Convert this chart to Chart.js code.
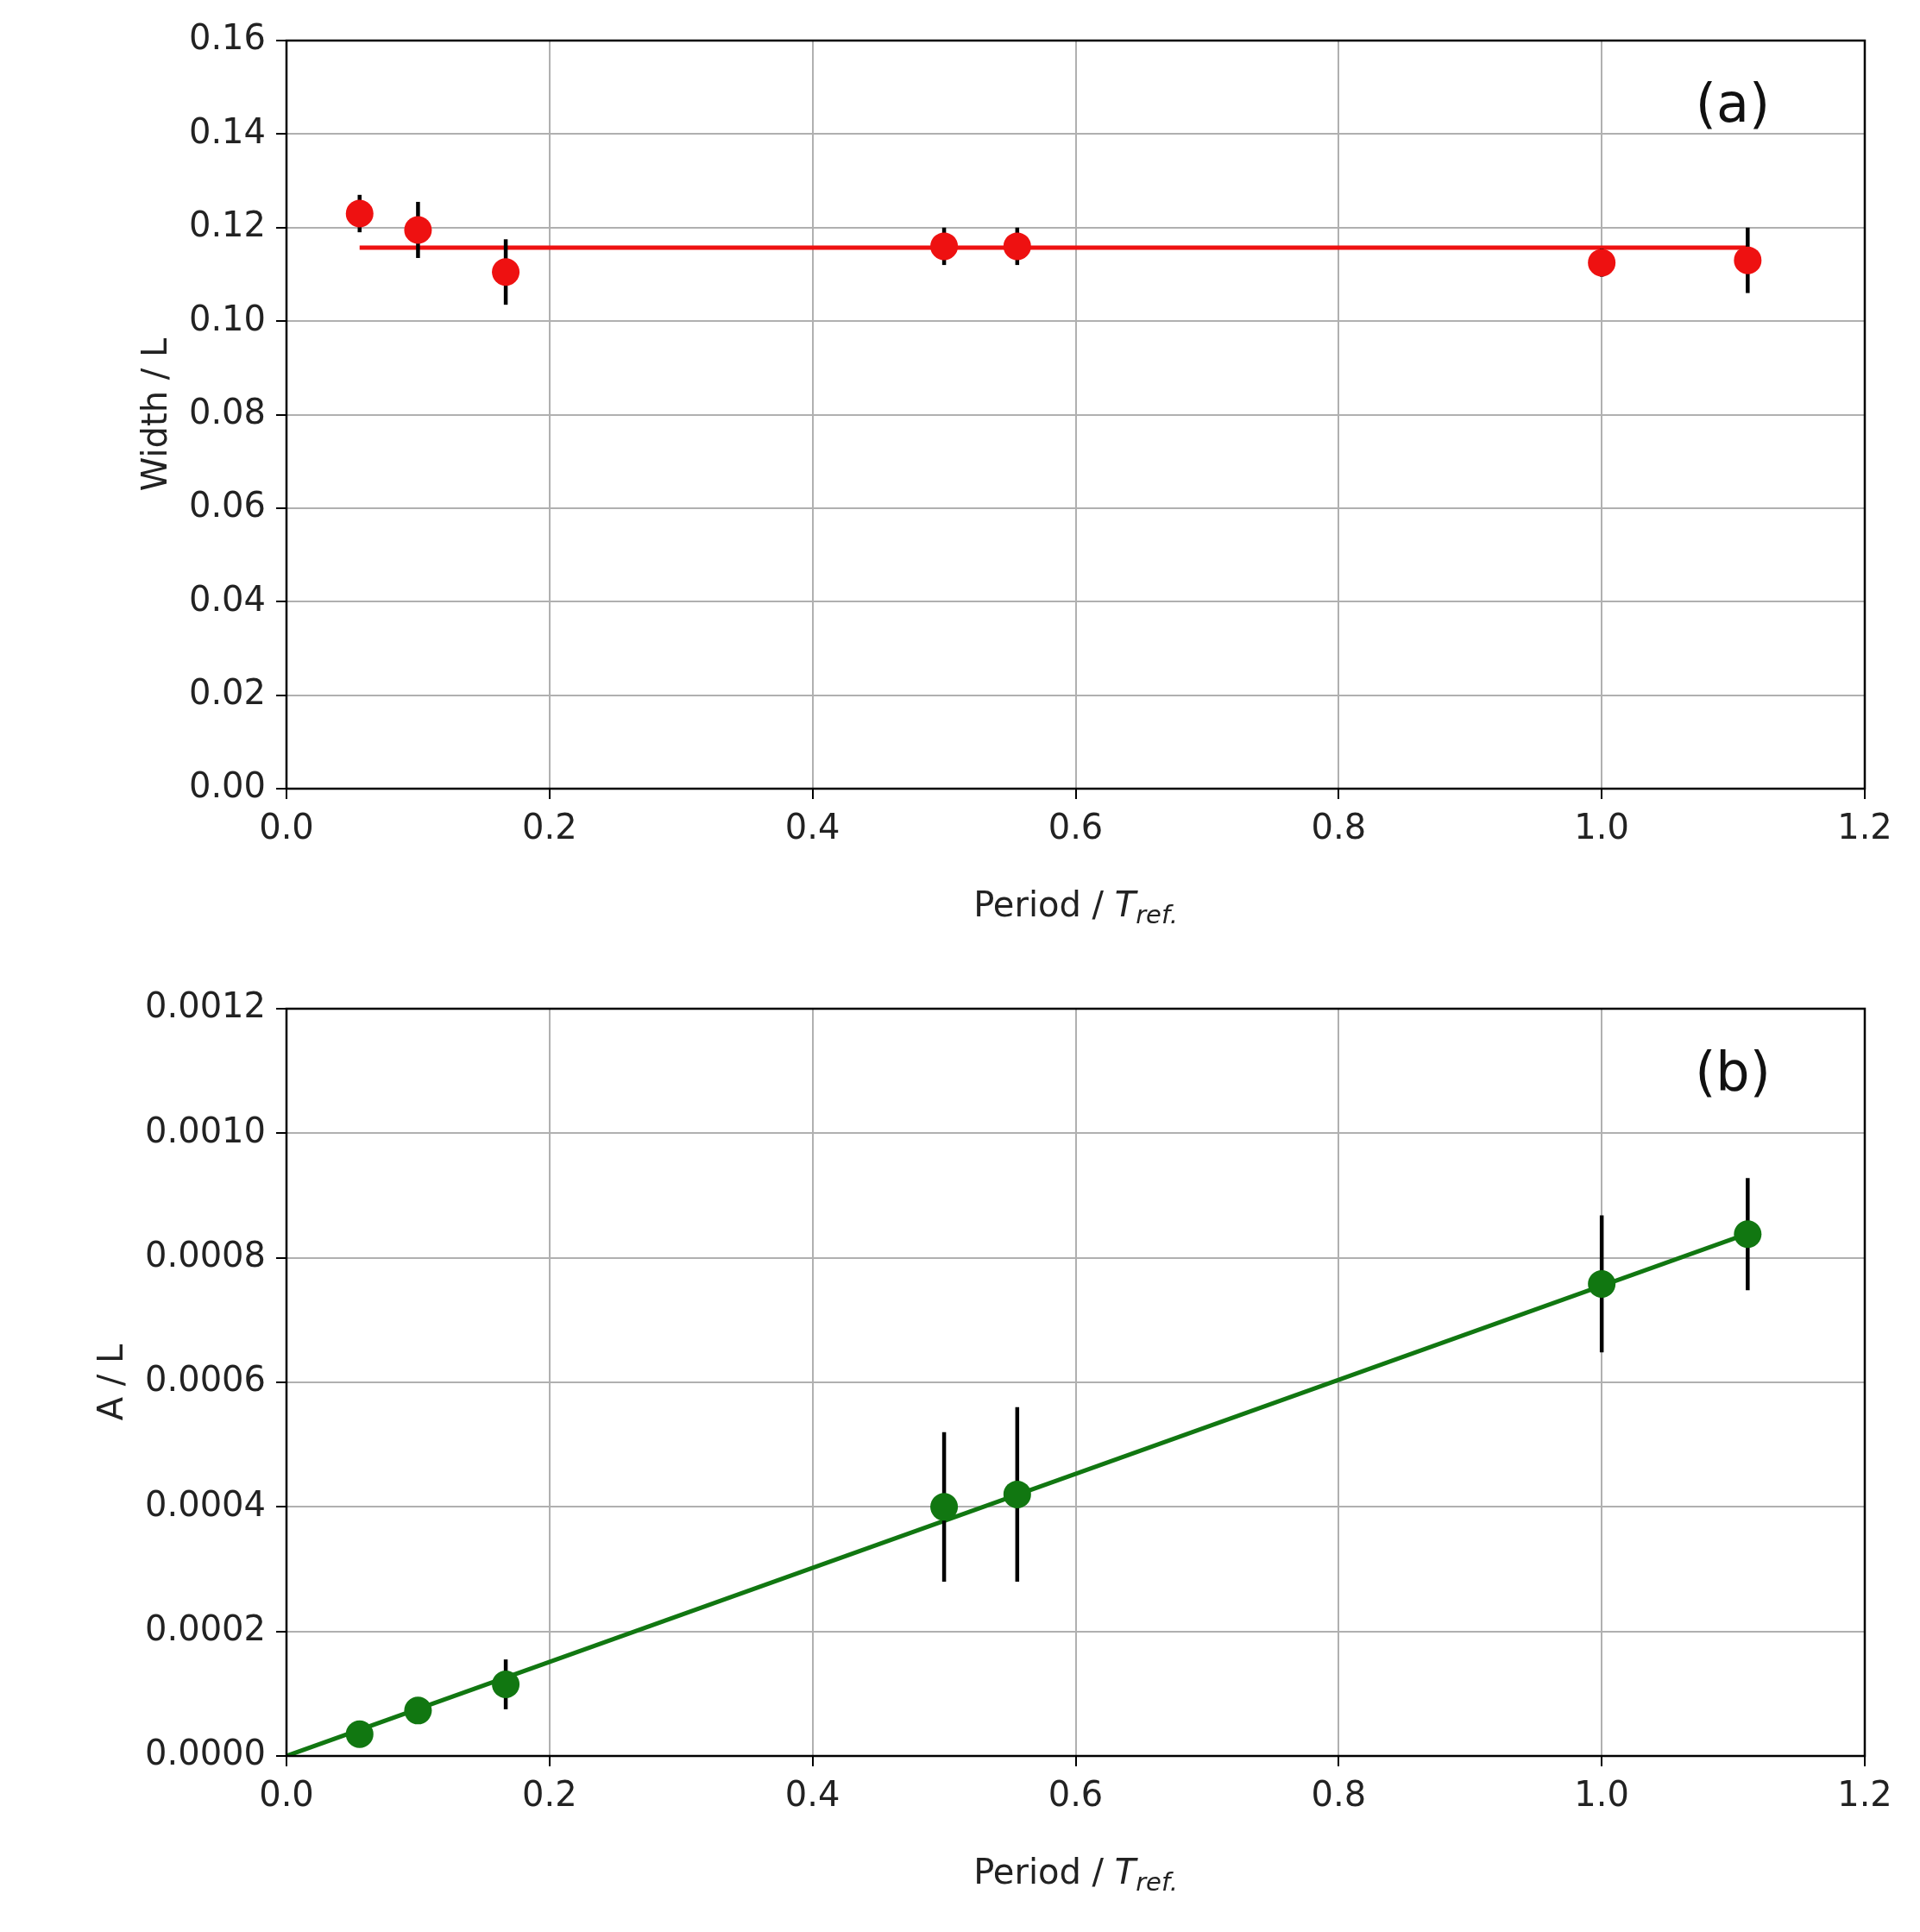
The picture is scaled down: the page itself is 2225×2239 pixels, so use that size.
<!DOCTYPE html>
<html><head><meta charset="utf-8">
<script src="https://cdn.jsdelivr.net/npm/chart.js@4"></script>
<style>body{margin:0;background:#fff;width:2225px;height:2239px;overflow:hidden}
.w{position:absolute;left:0;width:2225px}</style></head>
<body>
<div class="w" style="top:0;height:1110px"><canvas id="c1"></canvas></div>
<div class="w" style="top:1110px;height:1129px"><canvas id="c2"></canvas></div>
<script>
const periods=[0.0556,0.1,0.1667,0.5,0.5556,1.0,1.111];
const widthVals=[0.123,0.1195,0.1105,0.116,0.116,0.1125,0.113];
const widthErr=[0.004,0.006,0.007,0.004,0.004,0.003,0.007];
const widthFitX=[0.0556,1.111];
const widthFitY=[0.1157,0.1157];
const ampVals=[0.000035,0.000073,0.000115,0.000400,0.000420,0.000758,0.000838];
const ampErr=[0.000006,0.00001,0.00004,0.00012,0.00014,0.00011,0.00009];
const ampFitX=[0,1.111];
const ampFitY=[0,0.000839];
const xTicks=[0,0.2,0.4,0.6,0.8,1.0,1.2];
const widthTicks=[0,0.02,0.04,0.06,0.08,0.10,0.12,0.14,0.16];
const ampTicks=[0,0.0002,0.0004,0.0006,0.0008,0.0010,0.0012];
const F='DejaVu Sans';const FS=40;
Chart.defaults.font.family=F;Chart.defaults.color='#222';
function make(id,vals,errs,fx,fy,col,ymax,yt,dec,title,label,xh,padTop){
 const extra={id:'ex',
  afterDatasetsDraw(c){const ctx=c.ctx,x=c.scales.x,y=c.scales.y;ctx.save();
   ctx.strokeStyle='#000';ctx.lineWidth=4.5;
   periods.forEach((p,i)=>{ctx.beginPath();ctx.moveTo(x.getPixelForValue(p),y.getPixelForValue(vals[i]-errs[i]));ctx.lineTo(x.getPixelForValue(p),y.getPixelForValue(vals[i]+errs[i]));ctx.stroke();});
   ctx.fillStyle=col;periods.forEach((p,i)=>{ctx.beginPath();ctx.arc(x.getPixelForValue(p),y.getPixelForValue(vals[i]),16,0,7);ctx.fill();});
   ctx.restore();},
  afterDraw(c){const ctx=c.ctx,a=c.chartArea;ctx.save();ctx.strokeStyle='#000';ctx.lineWidth=2.5;
   ctx.strokeRect(a.left,a.top,a.right-a.left,a.bottom-a.top);
   ctx.fillStyle='#111';ctx.font='62px '+F;ctx.textAlign='center';ctx.textBaseline='middle';
   ctx.fillText(label,2008,a.top+78);
   // y title
   ctx.font=FS+'px '+F;const tw=Math.max(...yt.map(v=>ctx.measureText(v.toFixed(dec)).width));
   ctx.save();ctx.translate(a.left-26-tw-34,(a.top+a.bottom)/2);ctx.rotate(-Math.PI/2);
   ctx.fillStyle='#222';ctx.fillText(title,0,0);ctx.restore();
   // x title
   ctx.fillStyle='#222';ctx.font=FS+'px '+F;ctx.textAlign='left';ctx.textBaseline='alphabetic';
   const yb=a.bottom+148;const p1='Period / ';const w1=ctx.measureText(p1).width;
   ctx.font='italic '+FS+'px '+F;const w2=ctx.measureText('T').width;
   ctx.font='italic 29px '+F;const w3=ctx.measureText('ref.').width;
   let sx=(a.left+a.right)/2-(w1+w2+w3)/2;
   ctx.font=FS+'px '+F;ctx.fillText(p1,sx,yb);sx+=w1;
   ctx.font='italic '+FS+'px '+F;ctx.fillText('T',sx,yb);sx+=w2;
   ctx.font='italic 29px '+F;ctx.fillText('ref.',sx,yb+8);
   ctx.restore();}};
 return new Chart(document.getElementById(id),{type:'scatter',
  data:{datasets:[{type:'line',data:fx.map((v,i)=>({x:v,y:fy[i]})),borderColor:col,borderWidth:5,pointRadius:0,fill:false}]},
  options:{responsive:true,maintainAspectRatio:false,animation:false,
   layout:{padding:{top:padTop,right:64,left:0,bottom:0}},
   plugins:{legend:{display:false},tooltip:{enabled:false}},
   scales:{
    x:{type:'linear',min:0,max:1.2,afterBuildTicks(s){s.ticks=xTicks.map(v=>({value:v}));},
     afterFit(s){s.height=xh;},
     ticks:{font:{size:FS},color:'#222',padding:12,callback:v=>v.toFixed(1)},
     grid:{color:'#b0b0b0',lineWidth:2,tickColor:'#000',tickLength:12},border:{display:false}},
    y:{min:0,max:ymax,afterBuildTicks(s){s.ticks=yt.map(v=>({value:v}));},
     afterFit(s){s.width=332;},
     ticks:{font:{size:FS},color:'#222',padding:12,callback:v=>v.toFixed(dec)},
     grid:{color:'#b0b0b0',lineWidth:2,tickColor:'#000',tickLength:12},border:{display:false}}}},
  plugins:[extra]});
}
make('c1',widthVals,widthErr,widthFitX,widthFitY,'#ee1111',0.16,widthTicks,2,'Width / L','(a)',196,47);
make('c2',ampVals,ampErr,ampFitX,ampFitY,'#117711',0.0012,ampTicks,4,'A / L','(b)',204,59);
</script></body></html>
